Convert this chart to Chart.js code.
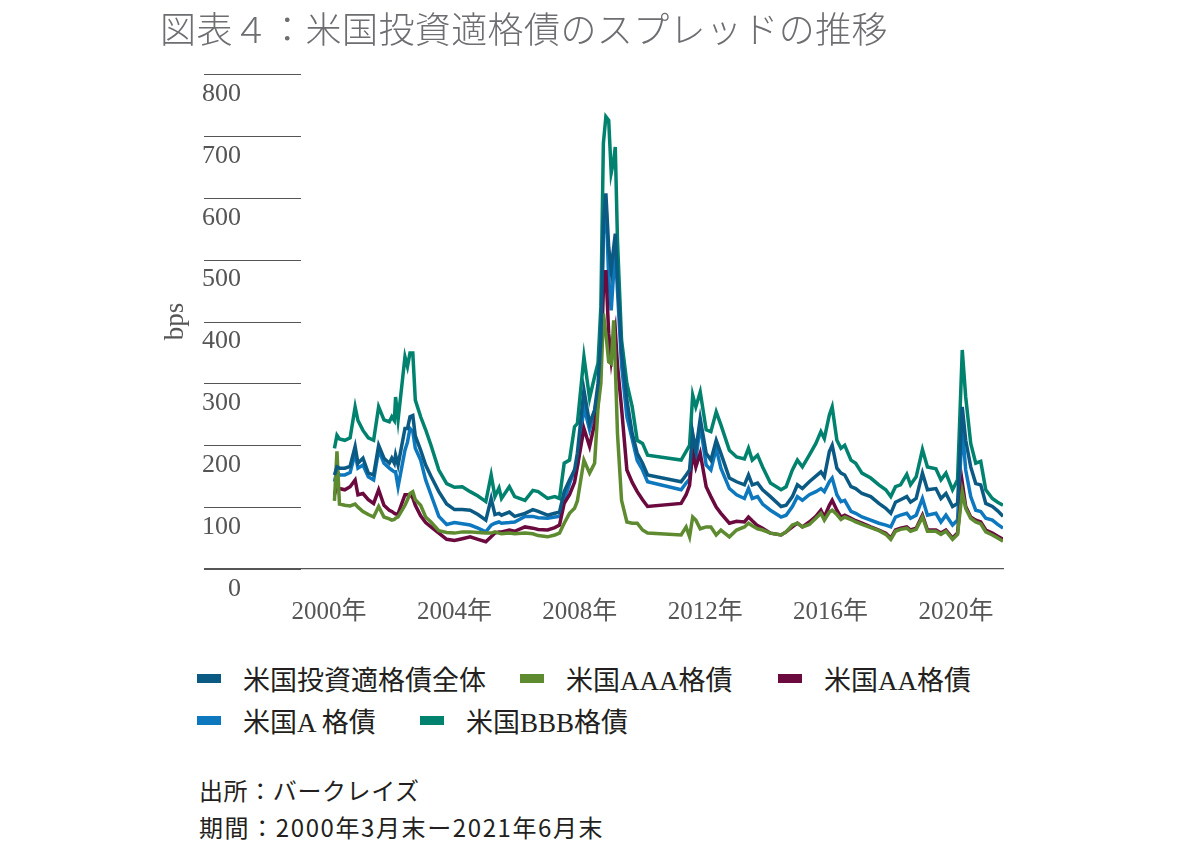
<!DOCTYPE html>
<html lang="ja">
<head>
<meta charset="utf-8">
<title>米国投資適格債のスプレッドの推移</title>
<script src="https://cdn.jsdelivr.net/npm/chart.js@4.4.1/dist/chart.umd.min.js"></script>
<style>
  html, body { margin: 0; padding: 0; background: #fff; }
  #wrap { position: relative; width: 1200px; height: 860px; overflow: hidden; }
  #title { position: absolute; left: 160px; top: 5px; font: 300 36px "Noto Sans CJK JP"; line-height: 44px; letter-spacing: 0.4px; color: #6d6e71; white-space: nowrap; }
  #chart { position: absolute; left: 0; top: 0; }
  .lg { position: absolute; height: 32px; display: flex; align-items: center; font: 27px "Liberation Serif", "Noto Sans CJK JP"; color: #231f20; white-space: nowrap; }
  .lg i { display: inline-block; width: 24px; height: 9px; margin-right: 22px; }
  .note { position: absolute; left: 199px; font: 24px "Noto Sans CJK JP"; line-height: 32px; color: #231f20; white-space: nowrap; }
</style>
</head>
<body>
<div id="wrap">
  <canvas id="chart" width="1200" height="640"></canvas>
  <div id="title">図表４：米国投資適格債のスプレッドの推移</div>
  <div id="legend"></div>
  <div class="note" style="top:774px; letter-spacing:0.6px">出所：バークレイズ</div>
  <div class="note" style="top:811px; letter-spacing:1.6px">期間：2000年3月末ー2021年6月末</div>
</div>
<script>
// 月末の時点（年の小数表記）
const dates = [
  2000.17, 2000.25, 2000.33, 2000.5, 2000.67, 2000.83, 2000.92, 2001.08, 2001.25, 2001.42,
  2001.58, 2001.75, 2001.92, 2002.0, 2002.08, 2002.12, 2002.2, 2002.42, 2002.5, 2002.58,
  2002.67, 2002.75, 2002.92, 2003.08, 2003.25, 2003.5, 2003.75, 2004.0, 2004.25, 2004.5,
  2004.75, 2005.0, 2005.17, 2005.29, 2005.42, 2005.5, 2005.75, 2005.92, 2006.25, 2006.5,
  2006.67, 2006.97, 2007.2, 2007.35, 2007.5, 2007.67, 2007.83, 2007.92, 2008.13, 2008.31,
  2008.47, 2008.58, 2008.67, 2008.75, 2008.83, 2008.92, 2009.0, 2009.08, 2009.13, 2009.2,
  2009.33, 2009.5, 2009.67, 2009.83, 2010.0, 2010.16, 2011.23, 2011.39, 2011.5, 2011.6,
  2011.7, 2011.84, 2012.03, 2012.18, 2012.35, 2012.5, 2012.77, 2013.0, 2013.25, 2013.38,
  2013.5, 2013.67, 2013.83, 2014.08, 2014.42, 2014.58, 2014.78, 2014.94, 2015.1, 2015.32,
  2015.53, 2015.69, 2015.8, 2015.96, 2016.05, 2016.2, 2016.33, 2016.45, 2016.65, 2016.8,
  2017.0, 2017.28, 2017.54, 2017.76, 2017.92, 2018.07, 2018.23, 2018.43, 2018.55, 2018.73,
  2018.93, 2019.09, 2019.36, 2019.52, 2019.68, 2019.89, 2020.05, 2020.2, 2020.31, 2020.47,
  2020.63, 2020.79, 2020.95, 2021.16, 2021.33, 2021.5
];

// bps
const igAll = [
  152, 165, 163, 163, 166, 198, 171, 179, 155, 152,
  200, 179, 171, 179, 171, 184, 168, 227, 227, 246,
  248, 215, 192, 168, 150, 125, 105, 96, 96, 95,
  88, 79, 114, 88, 90, 87, 92, 85, 90, 96,
  93, 87, 90, 92, 125, 144, 160, 187, 289, 235,
  257, 300, 370, 560, 607, 520, 483, 520, 542, 470,
  350, 273, 219, 187, 171, 152, 141, 152, 160, 219,
  192, 243, 187, 176, 208, 187, 147, 141, 136, 152,
  136, 139, 128, 117, 101, 103, 117, 136, 130, 141,
  150, 157, 149, 190, 200, 163, 155, 152, 133, 130,
  122, 117, 106, 98, 90, 108, 112, 117, 108, 114,
  155, 128, 130, 114, 122, 101, 106, 262, 208, 165,
  138, 136, 106, 101, 94, 85
];
const aaa = [
  110, 190, 105, 103, 102, 105, 100, 93, 88, 84,
  101, 84, 81, 79, 80, 82, 84, 103, 112, 122,
  125, 112, 103, 84, 76, 62, 59, 58, 60, 60,
  59, 58, 58, 60, 58, 57, 58, 57, 58, 57,
  54, 52, 55, 58, 74, 90, 98, 110, 176, 155,
  171, 262, 300, 413, 380, 335, 332, 402, 330, 219,
  111, 76, 74, 74, 63, 58, 55, 68, 52, 84,
  79, 65, 68, 68, 55, 63, 52, 63, 68, 74,
  70, 65, 63, 58, 55, 60, 71, 74, 68, 72,
  82, 90, 79, 92, 95, 88, 80, 84, 80, 76,
  72, 67, 62, 56, 48, 61, 64, 66, 61, 64,
  84, 61, 61, 56, 61, 48, 56, 125, 98, 82,
  76, 73, 60, 55, 50, 45
];
const aa = [
  120, 133, 130, 128, 133, 144, 120, 122, 112, 106,
  128, 103, 95, 93, 90, 89, 89, 120, 120, 120,
  115, 103, 86, 75, 68, 58, 48, 46, 49, 52,
  48, 44, 52, 58, 60, 60, 63, 61, 68, 66,
  64, 63, 67, 71, 106, 120, 140, 165, 227, 198,
  235, 265, 327, 450, 483, 380, 338, 370, 386, 330,
  260, 160, 140, 125, 112, 101, 106, 120, 135, 189,
  165, 187, 133, 117, 100, 90, 74, 77, 76, 84,
  78, 70, 66, 58, 55, 60, 68, 74, 68, 76,
  85, 95, 84, 103, 111, 95, 84, 87, 82, 78,
  74, 68, 63, 58, 50, 63, 66, 68, 63, 66,
  87, 63, 63, 58, 63, 50, 58, 140, 101, 84,
  79, 76, 63, 58, 53, 48
];
const singleA = [
  141, 157, 152, 152, 156, 187, 163, 168, 149, 144,
  192, 171, 163, 160, 157, 157, 133, 192, 205, 227,
  222, 195, 176, 144, 120, 85, 72, 75, 73, 71,
  66, 60, 71, 74, 76, 74, 75, 76, 85, 85,
  83, 82, 84, 85, 111, 138, 160, 167, 262, 225,
  255, 285, 348, 540, 596, 470, 418, 480, 521, 450,
  330, 246, 210, 175, 160, 141, 128, 139, 145, 214,
  176, 233, 168, 160, 195, 163, 130, 120, 114, 130,
  114, 117, 105, 95, 84, 87, 101, 117, 111, 120,
  125, 130, 125, 141, 147, 120, 109, 111, 93, 90,
  84, 79, 74, 71, 68, 84, 87, 90, 82, 87,
  114, 87, 90, 76, 87, 71, 79, 228, 160, 117,
  95, 93, 82, 79, 72, 66
];
const bbb = [
  195, 216, 210, 208, 212, 262, 240, 224, 212, 208,
  262, 241, 238, 246, 240, 278, 241, 343, 327, 349,
  349, 273, 246, 225, 200, 160, 138, 132, 133, 125,
  118, 109, 152, 117, 131, 114, 133, 117, 111, 127,
  125, 114, 117, 114, 171, 176, 230, 235, 343, 276,
  311, 333, 424, 688, 731, 725, 640, 660, 682, 531,
  370, 300, 262, 208, 203, 184, 176, 190, 200, 281,
  262, 286, 225, 222, 254, 233, 192, 181, 178, 195,
  176, 184, 165, 139, 128, 133, 160, 176, 165, 184,
  203, 222, 211, 249, 262, 208, 195, 200, 176, 171,
  155, 147, 136, 128, 117, 133, 136, 153, 136, 149,
  193, 165, 162, 144, 155, 128, 144, 354, 278, 203,
  171, 174, 128, 114, 108, 103
];

const seriesNames = ['米国投資適格債全体', '米国AAA格債', '米国AA格債', '米国A 格債', '米国BBB格債'];
const seriesValues = [igAll, aaa, aa, singleA, bbb];
const seriesColors = ['#0b5a84', '#5e8a30', '#6a0a3e', '#0d78be', '#00826f'];
const yTicks = [0, 100, 200, 300, 400, 500, 600, 700, 800];
const xTickYears = [2000, 2004, 2008, 2012, 2016, 2020];

// 凡例の配置
const legendSpots = [[197, 662], [520, 662], [778, 662], [197, 704], [420, 704]];

const datasets = seriesNames.map((name, i) => ({
  label: name,
  data: dates.map((d, j) => ({ x: d, y: seriesValues[i][j] })),
  borderColor: seriesColors[i],
  backgroundColor: seriesColors[i],
  borderWidth: 3.5,
  pointRadius: 0,
  tension: 0,
  fill: false
}));

// 目盛りの上に短い横線を引く
const shortGrid = {
  id: 'shortGrid',
  beforeDatasetsDraw(chart) {
    const y = chart.scales.y;
    const ctx = chart.ctx;
    const left = chart.chartArea.left;
    ctx.save();
    ctx.strokeStyle = '#555555';
    ctx.lineWidth = 1;
    y.ticks.forEach(t => {
      const py = Math.round(y.getPixelForValue(t.value)) + 0.5;
      ctx.beginPath();
      ctx.moveTo(left - 1, py);
      ctx.lineTo(left + 96, py);
      ctx.stroke();
    });
    ctx.restore();
  }
};

const chart = new Chart(document.getElementById('chart'), {
  type: 'line',
  data: { datasets },
  options: {
    responsive: false,
    animation: false,
    layout: { padding: { left: 150, right: 197, top: 74, bottom: 0 } },
    plugins: {
      legend: { display: false },
      tooltip: { enabled: false }
    },
    scales: {
      x: {
        type: 'linear',
        min: 1996.04,
        max: 2021.5,
        afterFit: s => { s.height = 71; },
        afterBuildTicks: s => { s.ticks = xTickYears.map(v => ({ value: v })); },
        grid: { display: false, drawTicks: false },
        border: { display: true, color: '#555555', width: 1.3 },
        ticks: {
          padding: 28,
          color: '#555555',
          font: { family: '"Liberation Serif", "Noto Sans CJK JP"', size: 25 },
          callback: v => v + '年'
        }
      },
      y: {
        min: 0,
        max: 800,
        afterFit: s => { s.width = 55; },
        afterBuildTicks: s => { s.ticks = yTicks.map(v => ({ value: v })); },
        grid: { display: false, drawTicks: false },
        border: { display: false },
        title: {
          display: true,
          text: 'bps',
          color: '#555555',
          padding: { top: 10, bottom: 0 },
          font: { family: '"Liberation Serif"', size: 27 }
        },
        ticks: {
          mirror: true,
          crossAlign: 'far',
          padding: -3,
          labelOffset: 20,
          color: '#555555',
          font: { family: '"Liberation Serif"', size: 26 }
        }
      }
    }
  },
  plugins: [shortGrid]
});

const legendBox = document.getElementById('legend');
chart.data.datasets.forEach((ds, i) => {
  const item = document.createElement('div');
  item.className = 'lg';
  item.style.left = legendSpots[i][0] + 'px';
  item.style.top = legendSpots[i][1] + 'px';
  const sw = document.createElement('i');
  sw.style.background = ds.borderColor;
  item.appendChild(sw);
  item.appendChild(document.createTextNode(ds.label));
  legendBox.appendChild(item);
});
</script>
</body>
</html>
